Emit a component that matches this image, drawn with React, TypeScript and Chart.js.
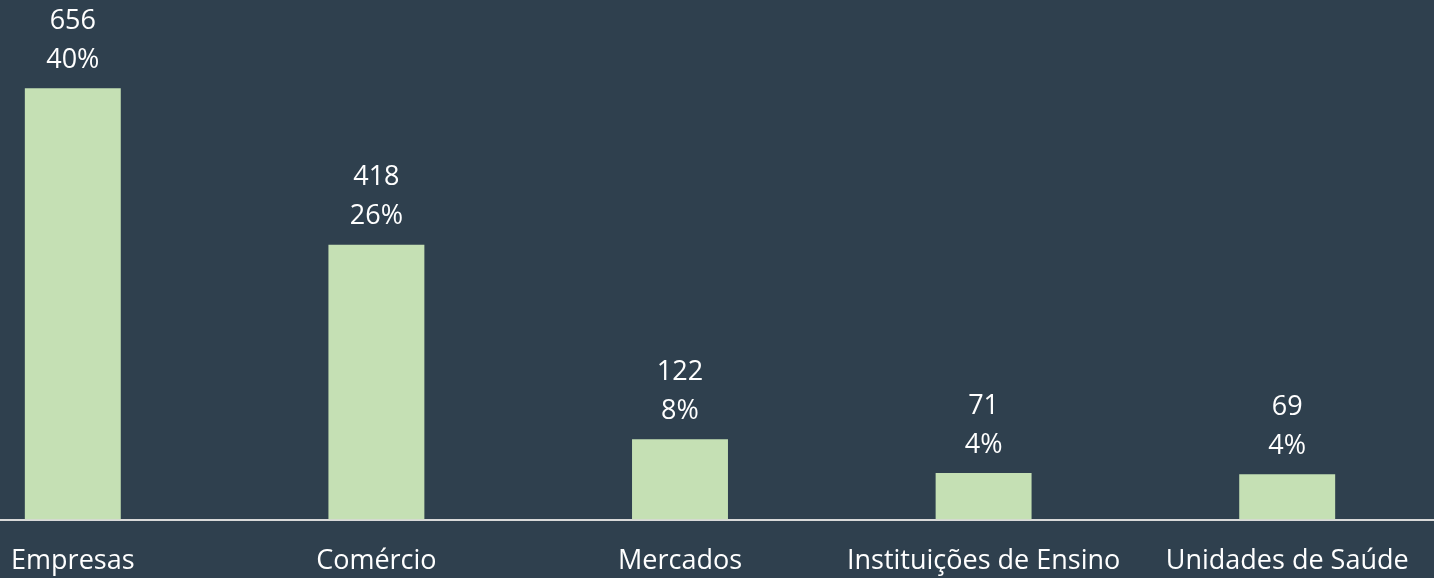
import React, { useEffect, useRef } from "react";
import { Chart, registerables } from "chart.js";

Chart.register(...registerables);

const categories = ["Empresas", "Comércio", "Mercados", "Instituições de Ensino", "Unidades de Saúde"];
const counts = [656, 418, 122, 71, 69];
const shares = ["40%", "26%", "8%", "4%", "4%"];

const BG = "#2f404e";
const BAR = "#c5e0b4";
const FONT = "'Open Sans', 'Noto Sans', sans-serif";

const labelPlugin = {
  id: "barLabels",
  afterDatasetsDraw(chart: any) {
    const ctx = chart.ctx;
    const meta = chart.getDatasetMeta(0);
    ctx.save();
    ctx.fillStyle = "#ffffff";
    ctx.font = `27px ${FONT}`;
    ctx.textAlign = "center";
    ctx.textBaseline = "middle";
    meta.data.forEach((bar: any, i: number) => {
      ctx.fillText(String(counts[i]), bar.x, bar.y - 67);
      ctx.fillText(shares[i], bar.x, bar.y - 28);
    });
    ctx.restore();
  },
};

export default function App() {
  const ref = useRef<HTMLCanvasElement | null>(null);
  useEffect(() => {
    if (!ref.current) return;
    const chart = new Chart(ref.current, {
      type: "bar",
      data: {
        labels: categories,
        datasets: [
          {
            data: counts,
            backgroundColor: BAR,
            borderWidth: 0,
            categoryPercentage: 1,
            barPercentage: 0.316,
          },
        ],
      },
      options: {
        responsive: false,
        animation: false,
        layout: { padding: { top: 0, left: 0, right: 0, bottom: 4 } },
        plugins: { legend: { display: false }, tooltip: { enabled: false }, title: { display: false } },
        scales: {
          x: {
            grid: { display: false },
            border: { display: true, color: "#d9d9d9", width: 2 },
            ticks: { color: "#ffffff", font: { family: FONT, size: 27 }, padding: 18, maxRotation: 0, autoSkip: false },
          },
          y: { display: false, min: 0, max: 790 },
        },
      },
      plugins: [labelPlugin],
    });
    return () => chart.destroy();
  }, []);
  return (
    <div style={{ position: "fixed", left: 0, top: 0, width: 1434, height: 578, overflow: "hidden", background: BG }}>
      <div style={{ position: "absolute", left: -79, top: 0, width: 1518, height: 600 }}>
        <canvas ref={ref} width={1518} height={600} style={{ width: 1518, height: 600, display: "block" }} />
      </div>
    </div>
  );
}
